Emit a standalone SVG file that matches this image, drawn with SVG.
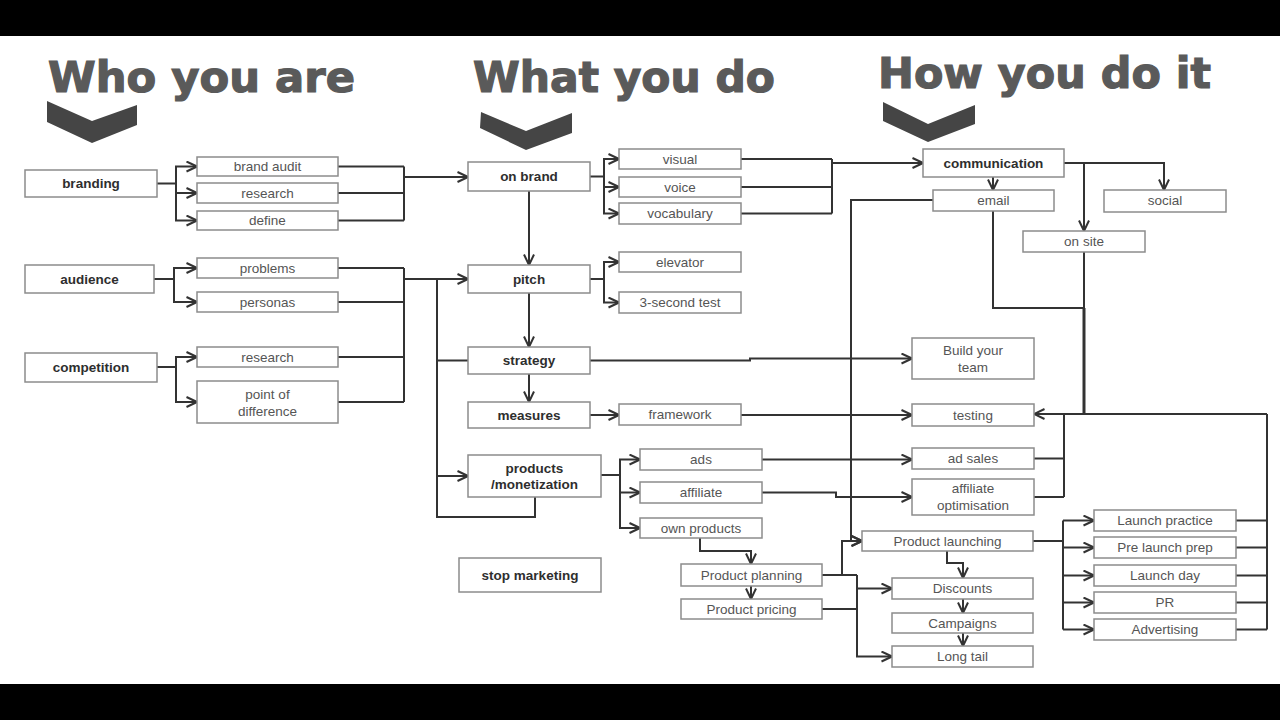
<svg xmlns="http://www.w3.org/2000/svg" width="1280" height="720" viewBox="0 0 1280 720">
<style>
.box{fill:#fff;stroke:#8c8c8c;stroke-width:1.5}
.t{font-family:"Liberation Sans",Arial,sans-serif;font-size:13.5px;fill:#555;text-anchor:middle}
.b{font-family:"Liberation Sans",Arial,sans-serif;font-size:13.5px;font-weight:bold;fill:#2e2e2e;text-anchor:middle}
.h{font-family:"DejaVu Sans","Liberation Sans",sans-serif;font-size:42px;font-weight:bold;fill:#5a5a5a;stroke:#5a5a5a;stroke-width:1.2}
.chev{fill:#454545}
.c path{fill:none;stroke:#333;stroke-width:2}
.c path.a{marker-end:url(#arr)}
</style>
<defs>
<marker id="arr" viewBox="0 0 12 12" refX="11.5" refY="6" markerWidth="12" markerHeight="12" markerUnits="userSpaceOnUse" orient="auto">
<path d="M1,1 L11.5,6 L1,11" fill="none" stroke="#333" stroke-width="2"/>
</marker>
</defs>
<rect x="0" y="0" width="1280" height="720" fill="#fff"/>
<rect x="0" y="0" width="1280" height="36" fill="#000"/>
<rect x="0" y="684" width="1280" height="36" fill="#000"/>

<g id="headers">
<text class="h" x="48" y="92" textLength="307" lengthAdjust="spacingAndGlyphs">Who you are</text>
<text class="h" x="473" y="92" textLength="302" lengthAdjust="spacingAndGlyphs">What you do</text>
<text class="h" x="878" y="88" textLength="333" lengthAdjust="spacingAndGlyphs">How you do it</text>
<polygon class="chev" points="47,101 92,121 137,105 137,125 92,143 47,122"/>
<polygon class="chev" points="481,112 526,131 572,113 572,133 526,150 480,128"/>
<polygon class="chev" points="883,102 928,124 975,105 975,124 928,142 883,121"/>
</g>

<g class="c" id="connectors">
<path class="a" d="M157,183.5 H176 V166.5 H197"/>
<path class="a" d="M176,183.5 V220.5 H197"/>
<path class="a" d="M176,193 H197"/>
<path d="M338,166.5 H404 M338,193 H404 M338,220.5 H404 M404,166.5 V220.5"/>
<path class="a" d="M404,177 H468"/>
<path class="a" d="M154,279 H174 V268 H197"/>
<path class="a" d="M174,279 V302 H197"/>
<path class="a" d="M157,367 H176 V357 H197"/>
<path class="a" d="M176,367 V402 H197"/>
<path d="M338,268 H404 M338,302 H404 M338,357 H404 M338,402 H404 M404,268 V402"/>
<path class="a" d="M404,279 H468"/>
<path d="M437,279 V517 H535 V497 M437,360.5 H468"/>
<path class="a" d="M437,476 H468"/>
<path class="a" d="M529,191 V265"/>
<path class="a" d="M529,293 V347"/>
<path class="a" d="M529,374 V402"/>
<path class="a" d="M590,176.5 H604 V159 H619"/>
<path class="a" d="M604,176.5 V213.5 H619"/>
<path class="a" d="M604,187 H619"/>
<path d="M741,159 H832 M741,187 H832 M741,213.5 H832 M832,159 V213.5"/>
<path class="a" d="M832,163 H923"/>
<path class="a" d="M590,279 H604 V262 H619"/>
<path class="a" d="M604,279 V302.5 H619"/>
<path class="a" d="M590,360.5 H750 V358.5 H912"/>
<path class="a" d="M590,415 H619"/>
<path class="a" d="M741,415 H912"/>
<path class="a" d="M601,475 H620 V459.5 H640"/>
<path class="a" d="M620,475 V528 H640"/>
<path class="a" d="M620,492.5 H640"/>
<path class="a" d="M762,459.5 H912"/>
<path class="a" d="M762,492.5 H836 V497 H912"/>
<path class="a" d="M700,538 V551 H751 V564"/>
<path class="a" d="M751,586 V599"/>
<path class="a" d="M822,575 H842 V541 H862"/>
<path d="M842,575 H857 M822,609 H857"/>
<path class="a" d="M857,575 V656.5 H892"/>
<path class="a" d="M857,588.5 H892"/>
<path class="a" d="M993,177 V190"/>
<path class="a" d="M1064,163 H1164 V190"/>
<path class="a" d="M1084,163 V231"/>
<path class="a" d="M933,200 H851 V541 H862"/>
<path d="M993,211 V308 H1084 M1084,252 V308"/>
<path d="M1084,308 V414" style="stroke-width:3"/>
<path class="a" d="M1267,414 H1034"/>
<path d="M1034,458.5 H1064 M1034,497 H1064 M1064,414 V497"/>
<path class="a" d="M947,551 V563 H963 V578"/>
<path class="a" d="M963,599 V613"/>
<path class="a" d="M963,633 V646"/>
<path d="M1033,541 H1063 M1063,520.5 V629.5"/>
<path class="a" d="M1063,520.5 H1094"/>
<path class="a" d="M1063,547.5 H1094"/>
<path class="a" d="M1063,575.5 H1094"/>
<path class="a" d="M1063,602.5 H1094"/>
<path class="a" d="M1063,629.5 H1094"/>
<path d="M1236,520.5 H1267 M1236,547.5 H1267 M1236,575.5 H1267 M1236,602.5 H1267 M1236,629.5 H1267 M1267,414 V629.5"/>
</g>

<g id="branding"><rect class="box" x="25" y="170" width="132" height="27"/><text class="b" x="91" y="188">branding</text></g>
<g id="audience"><rect class="box" x="25" y="265" width="129" height="28"/><text class="b" x="89.5" y="284">audience</text></g>
<g id="competition"><rect class="box" x="25" y="353" width="132" height="29"/><text class="b" x="91" y="372">competition</text></g>

<g id="brand-audit"><rect class="box" x="197" y="157" width="141" height="19"/><text class="t" x="267.5" y="171">brand audit</text></g>
<g id="research1"><rect class="box" x="197" y="183" width="141" height="20"/><text class="t" x="267.5" y="198">research</text></g>
<g id="define"><rect class="box" x="197" y="211" width="141" height="19"/><text class="t" x="267.5" y="225">define</text></g>
<g id="problems"><rect class="box" x="197" y="258" width="141" height="20"/><text class="t" x="267.5" y="273">problems</text></g>
<g id="personas"><rect class="box" x="197" y="292" width="141" height="20"/><text class="t" x="267.5" y="307">personas</text></g>
<g id="research2"><rect class="box" x="197" y="347" width="141" height="20"/><text class="t" x="267.5" y="362">research</text></g>
<g id="point-of-difference"><rect class="box" x="197" y="381" width="141" height="42"/><text class="t" x="267.5" y="399">point of</text><text class="t" x="267.5" y="416">difference</text></g>

<g id="on-brand"><rect class="box" x="468" y="162" width="122" height="29"/><text class="b" x="529" y="181">on brand</text></g>
<g id="pitch"><rect class="box" x="468" y="265" width="122" height="28"/><text class="b" x="529" y="284">pitch</text></g>
<g id="strategy"><rect class="box" x="468" y="347" width="122" height="27"/><text class="b" x="529" y="365">strategy</text></g>
<g id="measures"><rect class="box" x="468" y="402" width="122" height="26"/><text class="b" x="529" y="420">measures</text></g>
<g id="products"><rect class="box" x="468" y="455" width="133" height="42"/><text class="b" x="534.5" y="473">products</text><text class="b" x="534.5" y="489">/monetization</text></g>
<g id="stop-marketing"><rect class="box" x="459" y="558" width="142" height="34"/><text class="b" x="530" y="580">stop marketing</text></g>

<g id="visual"><rect class="box" x="619" y="149" width="122" height="20"/><text class="t" x="680" y="164">visual</text></g>
<g id="voice"><rect class="box" x="619" y="177" width="122" height="20"/><text class="t" x="680" y="192">voice</text></g>
<g id="vocabulary"><rect class="box" x="619" y="203" width="122" height="21"/><text class="t" x="680" y="218">vocabulary</text></g>
<g id="elevator"><rect class="box" x="619" y="252" width="122" height="20"/><text class="t" x="680" y="267">elevator</text></g>
<g id="three-second"><rect class="box" x="619" y="292" width="122" height="21"/><text class="t" x="680" y="307">3-second test</text></g>
<g id="framework"><rect class="box" x="619" y="404" width="122" height="21"/><text class="t" x="680" y="419">framework</text></g>
<g id="ads"><rect class="box" x="640" y="449" width="122" height="21"/><text class="t" x="701" y="464">ads</text></g>
<g id="affiliate"><rect class="box" x="640" y="482" width="122" height="21"/><text class="t" x="701" y="497">affiliate</text></g>
<g id="own-products"><rect class="box" x="640" y="518" width="122" height="20"/><text class="t" x="701" y="533">own products</text></g>
<g id="product-planning"><rect class="box" x="681" y="564" width="141" height="22"/><text class="t" x="751.5" y="580">Product planning</text></g>
<g id="product-pricing"><rect class="box" x="681" y="599" width="141" height="20"/><text class="t" x="751.5" y="614">Product pricing</text></g>

<g id="communication"><rect class="box" x="923" y="149" width="141" height="28"/><text class="b" x="993.5" y="168">communication</text></g>
<g id="email"><rect class="box" x="933" y="190" width="121" height="21"/><text class="t" x="993.5" y="205">email</text></g>
<g id="social"><rect class="box" x="1104" y="190" width="122" height="22"/><text class="t" x="1165" y="205">social</text></g>
<g id="on-site"><rect class="box" x="1023" y="231" width="122" height="21"/><text class="t" x="1084" y="246">on site</text></g>
<g id="build-team"><rect class="box" x="912" y="338" width="122" height="41"/><text class="t" x="973" y="355">Build your</text><text class="t" x="973" y="372">team</text></g>
<g id="testing"><rect class="box" x="912" y="404" width="122" height="22"/><text class="t" x="973" y="420">testing</text></g>
<g id="ad-sales"><rect class="box" x="912" y="448" width="122" height="21"/><text class="t" x="973" y="463">ad sales</text></g>
<g id="affiliate-optimisation"><rect class="box" x="912" y="479" width="122" height="36"/><text class="t" x="973" y="493">affiliate</text><text class="t" x="973" y="510">optimisation</text></g>
<g id="product-launching"><rect class="box" x="862" y="531" width="171" height="20"/><text class="t" x="947.5" y="546">Product launching</text></g>
<g id="discounts"><rect class="box" x="892" y="578" width="141" height="21"/><text class="t" x="962.5" y="593">Discounts</text></g>
<g id="campaigns"><rect class="box" x="892" y="613" width="141" height="20"/><text class="t" x="962.5" y="628">Campaigns</text></g>
<g id="long-tail"><rect class="box" x="892" y="646" width="141" height="21"/><text class="t" x="962.5" y="661">Long tail</text></g>

<g id="launch-practice"><rect class="box" x="1094" y="510" width="142" height="21"/><text class="t" x="1165" y="525">Launch practice</text></g>
<g id="pre-launch-prep"><rect class="box" x="1094" y="537" width="142" height="21"/><text class="t" x="1165" y="552">Pre launch prep</text></g>
<g id="launch-day"><rect class="box" x="1094" y="565" width="142" height="21"/><text class="t" x="1165" y="580">Launch day</text></g>
<g id="pr"><rect class="box" x="1094" y="592" width="142" height="21"/><text class="t" x="1165" y="607">PR</text></g>
<g id="advertising"><rect class="box" x="1094" y="619" width="142" height="21"/><text class="t" x="1165" y="634">Advertising</text></g>
</svg>
